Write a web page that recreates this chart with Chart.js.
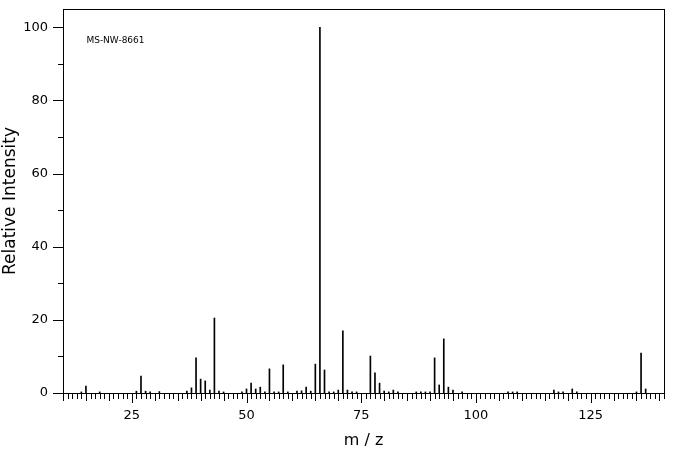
<!DOCTYPE html>
<html>
<head>
<meta charset="utf-8">
<script src="https://cdn.jsdelivr.net/npm/chart.js@4/dist/chart.umd.min.js"></script>
<style>
  html, body { margin: 0; padding: 0; background: #fff; }
  #wrap { width: 676px; height: 455px; }
</style>
</head>
<body>
<div id="wrap"><canvas id="chart"></canvas></div>
<script>
// m/z values and relative intensities
const mz = [14, 15, 18, 26, 27, 28, 29, 31, 37, 38, 39, 40, 41, 42, 43, 44, 45, 49, 50, 51, 52, 53, 54, 55, 56, 57, 58, 59,
  61, 62, 63, 64, 65, 66, 67, 68, 69, 70, 71, 72, 73, 74, 77, 78, 79, 80, 81, 82, 83, 87, 88, 89, 90, 91, 92, 93, 94, 95,
  97, 107, 108, 109, 117, 118, 119, 121, 122, 135, 136, 137];
const intensity = [0.3, 1.9, 0.3, 0.5, 4.6, 0.5, 0.3, 0.4, 0.5, 1.4, 9.6, 3.8, 3.3, 0.8, 20.5, 0.5, 0.3, 0.3, 1.1, 2.7, 1.1, 1.6, 0.3, 6.6, 0.3, 0.3, 7.7, 0.3,
  0.5, 0.6, 1.6, 0.5, 7.9, 100, 6.3, 0.3, 0.3, 0.8, 17.0, 0.8, 0.3, 0.3, 10.1, 5.5, 2.7, 0.5, 0.3, 0.8, 0.3, 0.3, 0.3, 0.3, 0.3, 9.6, 2.2, 14.8, 1.6, 0.8,
  0.3, 0.3, 0.3, 0.3, 0.8, 0.3, 0.3, 1.1, 0.3, 0.3, 10.9, 1.1];
const xTickLabels = [25, 50, 75, 100, 125];
const yTickLabels = [0, 20, 40, 60, 80, 100];
const sampleId = "MS-NW-8661";

const FONT = "'DejaVu Sans', sans-serif";

// frame, tick marks and the sample label
const framePlugin = {
  id: "frame",
  afterDraw(chart) {
    const ctx = chart.ctx;
    const a = chart.chartArea;
    const xs = chart.scales.x;
    const ys = chart.scales.y;
    ctx.save();
    ctx.strokeStyle = "#000";
    ctx.lineWidth = 1;
    ctx.strokeRect(Math.round(a.left) + 0.5, Math.round(a.top) + 0.5, Math.round(a.right - a.left), Math.round(a.bottom - a.top));
    ctx.beginPath();
    for (let v = Math.ceil(xs.min); v <= xs.max; v++) {
      const px = Math.round(xs.getPixelForValue(v)) + 0.5;
      const len = v % 25 === 0 ? 10 : v % 5 === 0 ? 8 : 6;
      ctx.moveTo(px, a.bottom);
      ctx.lineTo(px, a.bottom + len);
    }
    for (let v = 0; v <= 100; v += 10) {
      const py = Math.round(ys.getPixelForValue(v)) + 0.5;
      const len = v % 20 === 0 ? 10 : 5;
      ctx.moveTo(a.left, py);
      ctx.lineTo(a.left - len, py);
    }
    ctx.stroke();
    ctx.fillStyle = "#000";
    ctx.font = "9px " + FONT;
    ctx.textBaseline = "middle";
    ctx.fillText(sampleId, xs.getPixelForValue(15.1), ys.getPixelForValue(96.3));
    ctx.restore();
  }
};

new Chart(document.getElementById("chart"), {
  type: "bar",
  data: {
    datasets: [{
      data: mz.map((m, i) => ({ x: m, y: intensity[i] })),
      backgroundColor: "#000",
      borderWidth: 0,
      barThickness: 1
    }]
  },
  options: {
    responsive: true,
    maintainAspectRatio: false,
    animation: false,
    events: [],
    layout: { padding: { top: 9, right: 12, left: 0, bottom: 0 } },
    plugins: { legend: { display: false }, tooltip: { enabled: false } },
    scales: {
      x: {
        type: "linear",
        offset: false,
        min: 10,
        max: 141,
        grid: { display: false, offset: false },
        border: { display: false },
        afterBuildTicks: (s) => { s.ticks = xTickLabels.map(v => ({ value: v })); },
        afterFit: (s) => { s.height = 62; s.paddingLeft = 0; s.paddingRight = 0; },
        ticks: { color: "#000", font: { family: FONT, size: 13 }, padding: 7, maxRotation: 0 },
        title: { display: true, text: "m / z", color: "#000", font: { family: FONT, size: 16 }, padding: { top: 0, bottom: 5 } }
      },
      y: {
        min: 0,
        max: 105,
        grid: { display: false },
        border: { display: false },
        afterBuildTicks: (s) => { s.ticks = yTickLabels.map(v => ({ value: v })); },
        afterFit: (s) => { s.width = 63; s.paddingTop = 0; s.paddingBottom = 0; },
        ticks: { color: "#000", font: { family: FONT, size: 13 }, padding: 7 },
        title: { display: true, text: "Relative Intensity", color: "#000", font: { family: FONT, size: 17 }, padding: { top: 0, bottom: 0 } }
      }
    }
  },
  plugins: [framePlugin]
});
</script>
</body>
</html>
